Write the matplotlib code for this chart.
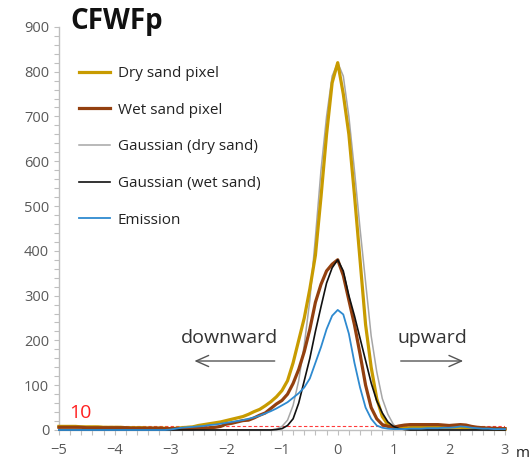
import matplotlib.pyplot as plt
from matplotlib.ticker import MultipleLocator
import matplotlib.transforms as mtransforms
import numpy as np

plt.rcParams['font.family'] = ['Open Sans', 'DejaVu Sans']

# position (m), -5 .. 3 in steps of 0.1
pos = np.round(np.arange(-5.0, 3.01, 0.1), 1)

dry_sand = [8, 8, 8, 8, 7, 7, 7, 7, 6, 6,
            6, 6, 5, 5, 5, 5, 4, 4, 4, 4,
            3, 4, 5, 6, 7, 10, 12, 14, 16, 18,
            21, 24, 27, 30, 35, 41, 46, 54, 63, 74,
            88, 110, 150, 200, 250, 315, 390, 520, 660, 775,
            820, 750, 660, 525, 380, 235, 140, 70, 30, 12,
            5, 4, 5, 5, 6, 6, 6, 6, 6, 6,
            6, 6, 6, 5, 5, 4, 4, 3, 3, 2, 2]

wet_sand = [6, 6, 6, 6, 6, 5, 5, 5, 5, 5,
            5, 5, 5, 4, 4, 4, 4, 4, 4, 3,
            3, 3, 3, 3, 3, 4, 4, 5, 6, 8,
            13, 15, 18, 21, 22, 27, 33, 38, 48, 58,
            66, 80, 104, 135, 175, 225, 285, 325, 355, 370,
            380, 345, 290, 235, 170, 100, 50, 25, 12, 8,
            6, 9, 11, 12, 12, 12, 12, 12, 12, 11,
            10, 11, 12, 11, 8, 6, 5, 4, 4, 3, 3]

gauss_dry = [0] * 39 + [2, 8, 22, 55, 110, 190, 290, 430, 580, 700, 790,
                        820, 790, 700, 580, 450, 330, 210, 130, 70, 35,
                        12, 4] + [0] * 19

gauss_wet = [0] * 39 + [1, 3, 10, 25, 60, 110, 160, 220, 275, 328, 362,
                        380, 355, 300, 255, 205, 155, 105, 65, 38, 18,
                        8, 3, 1] + [0] * 18

emission = [0] * 20 + [1, 3, 5, 6, 7, 8, 9, 11, 12, 14,
                       16, 18, 20, 22, 25, 28, 32, 37, 42, 48,
                       55, 62, 72, 82, 95, 115, 150, 185, 225, 255,
                       268, 258, 215, 150, 95, 50, 25, 10, 5, 3,
                       2, 2, 2, 3, 3, 3, 4, 4, 4, 5,
                       5, 6, 8, 7, 5, 4, 3, 3, 2, 2, 2]

threshold = 10

fig = plt.figure(figsize=(5.31, 4.65), dpi=100)
ax = fig.add_axes([0.111, 0.0753, 0.840, 0.867])

l_gd, = ax.plot(pos, gauss_dry, color='#A6A6A6', lw=1.1, clip_on=False, zorder=2)
l_dry, = ax.plot(pos, dry_sand, color='#C89B00', lw=2.3, clip_on=False, zorder=3)
l_wet, = ax.plot(pos, wet_sand, color='#93400F', lw=2.3, clip_on=False, zorder=4)
l_gw, = ax.plot(pos, gauss_wet, color='#111111', lw=1.2, clip_on=False, zorder=5)
l_em, = ax.plot(pos, emission, color='#2E8AD0', lw=1.3, clip_on=False, zorder=6)

ax.axhline(threshold, color='#FF3B3B', lw=0.8, ls=(0, (3, 2)), zorder=1)
ax.text(-4.82, 26, '10', color='#FF2020', fontsize=14)

ax.set_xlim(-5, 3)
ax.set_ylim(0, 900)
ax.xaxis.set_major_locator(MultipleLocator(1))
ax.xaxis.set_minor_locator(MultipleLocator(0.2))
ax.yaxis.set_major_locator(MultipleLocator(100))
ax.yaxis.set_minor_locator(MultipleLocator(20))
ax.tick_params(which='both', direction='out', length=3.5, width=0.8,
               color='#BFBFBF', labelcolor='#595959', labelsize=10.5)
ax.tick_params(axis='x', pad=6)
for s in ['top', 'right']:
    ax.spines[s].set_visible(False)
for s in ['left', 'bottom']:
    ax.spines[s].set_color('#BFBFBF')
    ax.spines[s].set_linewidth(1.0)

trans = mtransforms.blended_transform_factory(ax.transData, ax.transAxes)
ax.text(3.2, -0.058, 'm', transform=trans, fontsize=11, color='#222222', va='center')

# direction arrows
ax.text(-1.94, 205, 'downward', fontsize=14, color='#333333', ha='center', va='center')
ax.annotate('', xy=(-2.62, 154), xytext=(-1.08, 154),
            arrowprops=dict(arrowstyle='->,head_length=0.9,head_width=0.4', color='#555555', lw=1))
ax.text(1.69, 205, 'upward', fontsize=14, color='#333333', ha='center', va='center')
ax.annotate('', xy=(2.3, 154), xytext=(1.08, 154),
            arrowprops=dict(arrowstyle='->,head_length=0.9,head_width=0.4', color='#555555', lw=1))

fig.text(0.132, 0.954, 'CFWFp', fontsize=20, fontweight='bold', color='#111111', va='center')

ax.legend([l_dry, l_wet, l_gd, l_gw, l_em],
          ['Dry sand pixel', 'Wet sand pixel', 'Gaussian (dry sand)',
           'Gaussian (wet sand)', 'Emission'],
          loc='upper left', bbox_to_anchor=(0.045, 0.903), frameon=False,
          fontsize=11, labelspacing=1.42, handlelength=2.0, handletextpad=0.55,
          borderpad=0, borderaxespad=0, labelcolor='#222222')

fig.savefig('out.png', dpi=100)
